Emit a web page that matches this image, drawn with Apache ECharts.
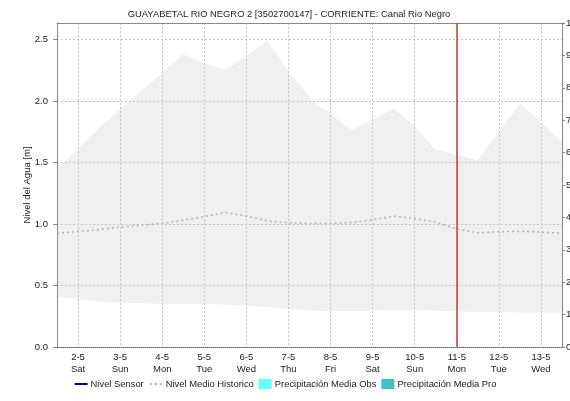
<!DOCTYPE html>
<html>
<head>
<meta charset="utf-8">
<script src="https://cdn.jsdelivr.net/npm/echarts@6/dist/echarts.min.js"></script>
<style>
  html, body { margin: 0; padding: 0; background: #ffffff; }
  #chart { width: 570px; height: 401px; }
</style>
</head>
<body>
<div id="chart"></div>
<script>
// Station water level chart: historic range band, historic mean level and the current-time marker.
const titleText = 'GUAYABETAL RIO NEGRO 2 [3502700147] - CORRIENTE: Canal Rio Negro';

// Day-of-May ticks along the time axis and their labels
const dayTicks = [2, 3, 4, 5, 6, 7, 8, 9, 10, 11, 12, 13];
const dayLabels = ['2-5', '3-5', '4-5', '5-5', '6-5', '7-5', '8-5', '9-5', '10-5', '11-5', '12-5', '13-5'];
const weekDays = ['Sat', 'Sun', 'Mon', 'Tue', 'Wed', 'Thu', 'Fri', 'Sat', 'Sun', 'Mon', 'Tue', 'Wed'];

// Water level axis ticks [m]
const levelTicks = [0, 0.5, 1.0, 1.5, 2.0, 2.5];

// Historic range (min / max level) [m]
const bandDays = [1.5, 2.0, 2.5, 2.88, 3.5, 4.0, 4.5, 5.0, 5.5, 6.0, 6.5, 7.0, 7.67, 8.0, 8.5, 9.0, 9.5, 10.0, 10.45, 11.0, 11.5, 12.0, 12.5, 13.0, 13.5];
const bandHigh = [1.45, 1.61, 1.78, 1.90, 2.08, 2.23, 2.38, 2.31, 2.25, 2.37, 2.49, 2.24, 1.97, 1.90, 1.76, 1.85, 1.94, 1.80, 1.615, 1.56, 1.52, 1.75, 1.98, 1.83, 1.67];
const bandLow  = [0.41, 0.39, 0.37, 0.36, 0.355, 0.352, 0.35, 0.349, 0.345, 0.335, 0.325, 0.31, 0.295, 0.29, 0.29, 0.295, 0.30, 0.30, 0.295, 0.29, 0.285, 0.285, 0.28, 0.28, 0.28];

// Historic mean level [m]
const medianDays  = [1.5, 2.0, 2.5, 3.0, 3.5, 4.0, 4.5, 5.0, 5.5, 6.0, 6.5, 7.0, 7.5, 8.0, 8.5, 9.0, 9.5, 10.0, 10.5, 11.0, 11.5, 12.0, 12.5, 13.0, 13.5];
const medianLevel = [0.925, 0.94, 0.955, 0.975, 0.99, 1.005, 1.03, 1.06, 1.095, 1.065, 1.025, 1.01, 1.005, 1.005, 1.012, 1.035, 1.065, 1.045, 1.015, 0.96, 0.928, 0.938, 0.94, 0.935, 0.925];

// Sensor level and precipitation (no readings in this window)
const sensorLevel = [];
const rainObserved = [];
const rainForecast = [];

// Current time marker (day of May)
const nowDay = 11;

const fontFamily = '"Liberation Sans", Arial, sans-serif';
const zip = (xs, ys) => xs.map((x, i) => [x, ys[i]]);

const chart = echarts.init(document.getElementById('chart'), null, { renderer: 'canvas' });

chart.setOption({
  animation: false,
  backgroundColor: '#ffffff',
  textStyle: { fontFamily: fontFamily },
  title: {
    text: titleText,
    left: 284,
    textAlign: 'center',
    top: 5,
    textStyle: { fontSize: 9.4, fontWeight: 'normal', color: '#222', fontFamily: fontFamily }
  },
  legend: {
    bottom: 7,
    left: 'center',
    itemGap: 5,
    itemWidth: 13,
    itemHeight: 10,
    textStyle: { fontSize: 9.4, color: '#222', fontFamily: fontFamily, padding: [0, 0, 0, -2] },
    data: [
      { name: 'Nivel Sensor', itemStyle: { opacity: 0 } },
      { name: 'Nivel Medio Historico', itemStyle: { opacity: 0 } },
      { name: 'Precipitación Media Obs', icon: 'rect', itemStyle: { color: '#66ffff' } },
      { name: 'Precipitación Media Pro', icon: 'rect', itemStyle: { color: '#40c0c0' } }
    ]
  },
  grid: { left: 57, right: 8, top: 23, bottom: 54, outerBoundsMode: 'none' },
  xAxis: [
    {
      type: 'value',
      min: 1.5,
      max: 13.5,
      z: 1,
      axisLine: { show: true, onZero: false, lineStyle: { color: '#666', type: [1, 1], width: 1 } },
      axisTick: { show: false, customValues: dayTicks },
      axisLabel: {
        customValues: dayTicks,
        fontSize: 9.5,
        color: '#222',
        lineHeight: 12,
        margin: 4,
        formatter: (v) => {
          const i = dayTicks.indexOf(v);
          return i < 0 ? '' : dayLabels[i] + '\n' + weekDays[i];
        }
      },
      splitLine: { show: true, lineStyle: { color: '#c4c4c4', type: [2, 2], width: 1 } }
    },
    {
      type: 'value',
      position: 'top',
      min: 1.5,
      max: 13.5,
      z: 1,
      axisLine: { show: true, onZero: false, lineStyle: { color: '#888', width: 1 } },
      axisTick: { show: false },
      axisLabel: { show: false },
      splitLine: { show: false }
    }
  ],
  yAxis: [
    {
      type: 'value',
      min: 0,
      max: 2.635,
      z: 1,
      name: 'Nivel del Agua [m]',
      nameLocation: 'middle',
      nameGap: 25,
      nameMoveOverlap: false,
      nameTextStyle: { fontSize: 9.5, color: '#222', fontFamily: fontFamily },
      axisLine: { show: true, onZero: false, lineStyle: { color: '#888', width: 1 } },
      axisTick: { show: true, length: 4, customValues: levelTicks, lineStyle: { color: '#888' } },
      axisLabel: {
        customValues: levelTicks,
        fontSize: 9.5,
        color: '#222',
        margin: 9,
        formatter: (v) => v.toFixed(1)
      },
      splitLine: { show: true, lineStyle: { color: '#c4c4c4', type: [2, 2], width: 1 } }
    },
    {
      type: 'value',
      position: 'right',
      min: 0,
      max: 10,
      interval: 1,
      z: 1,
      axisLine: { show: true, onZero: false, lineStyle: { color: '#888', width: 1 } },
      axisTick: { show: true, length: 3, lineStyle: { color: '#888' } },
      axisLabel: { fontSize: 9.5, color: '#222', margin: 4 },
      splitLine: { show: false }
    }
  ],
  series: [
    {
      // upper edge of the historic range, filled down to zero
      name: 'bandHigh',
      type: 'line',
      z: 0,
      silent: true,
      symbol: 'none',
      lineStyle: { opacity: 0 },
      areaStyle: { color: '#f0f0f0', opacity: 1, origin: 'start' },
      data: zip(bandDays, bandHigh)
    },
    {
      // lower edge of the historic range, cleared back to white below it
      name: 'bandLow',
      type: 'line',
      z: 0,
      silent: true,
      symbol: 'none',
      lineStyle: { opacity: 0 },
      areaStyle: { color: '#ffffff', opacity: 1, origin: 'start' },
      data: zip(bandDays, bandLow)
    },
    {
      name: 'Nivel Sensor',
      type: 'line',
      symbol: 'none',
      color: '#000080',
      lineStyle: { color: '#000080', width: 1.5 },
      data: sensorLevel
    },
    {
      name: 'Nivel Medio Historico',
      type: 'line',
      symbol: 'none',
      z: 3,
      color: '#b4b4b4',
      lineStyle: { color: '#b4b4b4', width: 1.6, type: [2, 3] },
      data: zip(medianDays, medianLevel),
      markLine: {
        silent: true,
        symbol: ['none', 'none'],
        label: { show: false },
        lineStyle: { color: '#c83a3a', width: 1.5, type: 'solid' },
        data: [{ xAxis: nowDay }]
      }
    },
    {
      name: 'Precipitación Media Obs',
      type: 'bar',
      yAxisIndex: 1,
      color: '#66ffff',
      data: rainObserved
    },
    {
      name: 'Precipitación Media Pro',
      type: 'bar',
      yAxisIndex: 1,
      color: '#40c0c0',
      data: rainForecast
    }
  ]
});
</script>
</body>
</html>
